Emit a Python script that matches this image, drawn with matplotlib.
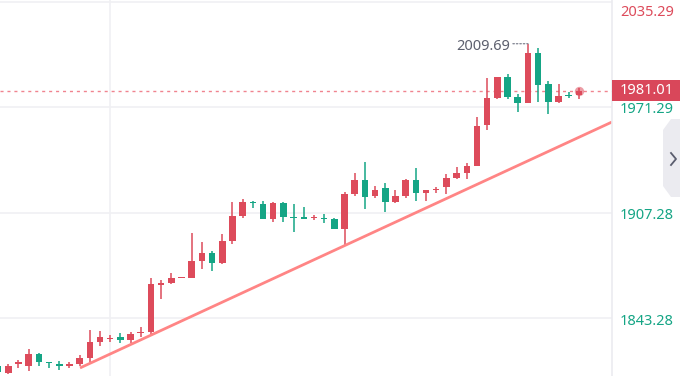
import matplotlib
matplotlib.use("Agg")
import matplotlib.pyplot as plt
import matplotlib.transforms as mtransforms
from matplotlib.patches import Rectangle, Polygon
import numpy as np

# ---------------- data ----------------
opens = [1814.2, 1809.9, 1815.4, 1814.2, 1821.4, 1816.6, 1815.4, 1813.9, 1815.4, 1819.0,
         1828.7, 1830.5, 1831.8, 1829.9, 1834.2, 1834.8, 1863.6, 1864.5, 1867.3, 1867.6,
         1877.9, 1882.7, 1876.7, 1890.0, 1905.2, 1913.7, 1912.5, 1903.4, 1913.1, 1904.6,
         1904.6, 1903.7, 1904.0, 1903.4, 1897.3, 1918.5, 1927.0, 1917.3, 1922.2, 1913.7,
         1917.3, 1927.0, 1919.1, 1921.0, 1922.8, 1928.2, 1931.3, 1935.5, 1960.4, 1976.8,
         1989.5, 1977.4, 1973.7, 2004.1, 1985.3, 1974.3, 1978.3, 1978.3]
highs = [1814.8, 1815.4, 1817.8, 1824.5, 1822.1, 1816.6, 1817.2, 1816.6, 1820.8, 1836.0,
         1835.4, 1833.0, 1834.2, 1834.8, 1837.8, 1867.6, 1866.3, 1870.6, 1867.9, 1894.9,
         1889.4, 1883.9, 1894.2, 1913.7, 1915.5, 1914.3, 1914.3, 1913.7, 1913.7, 1912.5,
         1910.6, 1905.8, 1906.4, 1904.0, 1919.7, 1931.3, 1937.9, 1923.4, 1925.2, 1920.9,
         1927.6, 1934.3, 1920.9, 1922.8, 1930.7, 1934.9, 1937.3, 1965.2, 1988.9, 1989.5,
         1991.3, 1979.2, 2009.69, 2007.1, 1987.1, 1985.3, 1980.4, 1982.8]
lows = [1809.3, 1809.3, 1813.0, 1811.1, 1814.2, 1813.0, 1811.7, 1813.0, 1814.2, 1816.6,
        1826.3, 1828.7, 1828.1, 1828.1, 1831.8, 1833.0, 1854.8, 1863.9, 1867.3, 1867.6,
        1873.0, 1871.8, 1876.0, 1888.2, 1904.0, 1910.0, 1903.4, 1901.5, 1901.5, 1895.5,
        1903.4, 1902.7, 1900.9, 1897.3, 1887.6, 1917.3, 1909.4, 1916.1, 1907.6, 1913.1,
        1916.1, 1914.3, 1914.3, 1919.1, 1918.5, 1927.6, 1927.6, 1935.5, 1957.3, 1976.2,
        1976.2, 1968.3, 1973.7, 1974.3, 1967.1, 1973.7, 1976.8, 1976.2]
closes = [1810.5, 1814.2, 1816.6, 1821.4, 1816.6, 1816.0, 1814.2, 1815.4, 1819.0, 1828.7,
          1831.8, 1831.2, 1829.9, 1833.6, 1834.8, 1863.9, 1864.5, 1867.6, 1867.9, 1877.9,
          1882.7, 1876.7, 1890.0, 1905.2, 1913.7, 1913.1, 1903.4, 1913.1, 1904.6, 1904.0,
          1903.4, 1904.3, 1903.4, 1897.3, 1918.5, 1927.0, 1916.7, 1920.9, 1913.7, 1917.3,
          1927.0, 1919.1, 1920.9, 1921.6, 1928.2, 1931.3, 1935.5, 1959.8, 1976.8, 1989.5,
          1977.4, 1973.7, 2004.1, 1984.6, 1974.3, 1978.0, 1977.7, 1981.01]

y_ticks = [2035.29, 1971.29, 1907.28, 1843.28]
y_tick_labels = ["2035.29", "1971.29", "1907.28", "1843.28"]
last_price = 1981.01
last_label = "1981.01"
high_label = "2009.69"
high_idx = 52
trend_x = [8.04, 60.25]
trend_y = [1813.0, 1962.2]

# ---------------- style ----------------
RED = "#dd4b5b"
GREEN = "#15a585"
GRID = "#f0f0f3"
W, H = 680, 376
plt.rcParams["font.family"] = ["Noto Sans", "DejaVu Sans"]

fig = plt.figure(figsize=(W / 100, H / 100), dpi=100)
plot_w = 612
ax = fig.add_axes([0, 0, plot_w / W, 1])
ax.set_xlim(0.186, 60.25)
ax.set_ylim(1808.1, 2036.2)
ax.axis("off")

# grid
for t in y_ticks:
    ax.axhline(t, color=GRID, lw=1.2, zorder=0)
ax.axvline(11, color=GRID, lw=1.2, zorder=0)

# candles
x = np.arange(len(opens))
o = np.array(opens); c = np.array(closes); h = np.array(highs); l = np.array(lows)
up = c >= o
colors = [RED if u else GREEN for u in up]
ax.vlines(x, l, h, colors=colors, lw=1.1, zorder=2)
bottoms = np.minimum(o, c)
heights = np.maximum(np.abs(c - o), 0.7)
ax.bar(x, heights, bottom=bottoms, width=0.64, color=colors, zorder=3, linewidth=0)

# trend line
ax.plot(trend_x, trend_y, color="#ff8585", lw=2.0, zorder=4, solid_capstyle="butt")

# current price dashed line
ax.axhline(last_price, color="#f0848f", lw=1.0, ls=(0, (2.2, 2.8)), zorder=1)
ax.scatter([x[-1]], [last_price], s=45, color=RED, alpha=0.55, zorder=5, linewidths=0)

# high annotation
ax.annotate(high_label, xy=(high_idx, highs[high_idx]), xytext=(-18, -3),
            textcoords="offset pixels", ha="right", va="center",
            fontsize=10.5, color="#5d606e")
ax.annotate("", xy=(high_idx, highs[high_idx]), xytext=(-15, 0),
            textcoords="offset pixels",
            arrowprops=dict(arrowstyle="-", color="#8a8d99", lw=1.0, ls=(0, (1, 1.5)),
                            shrinkA=0, shrinkB=0))

# right axis separator
fig.add_artist(plt.Line2D([plot_w / W, plot_w / W], [0, 1], color="#ebebf0", lw=1.2))

blend = mtransforms.blended_transform_factory(ax.transAxes, ax.transData)
offsets = [-11, -3, -3, -3]
for t, lab, off in zip(y_ticks, y_tick_labels, offsets):
    col = RED if t > last_price else GREEN
    ax.annotate(lab, xy=(1, t), xycoords=blend, xytext=(8, off),
                textcoords="offset pixels", ha="left", va="center",
                fontsize=10.5, color=col, annotation_clip=False)

# last price label box (figure-level so it sits above the tick labels)
fig.canvas.draw()
ypix = ax.transData.transform((0, last_price))[1]
fig.add_artist(Rectangle((plot_w, ypix - 10.5), W - plot_w, 21, transform=None,
                         facecolor="#d9475a", edgecolor="none", zorder=6))
lbl = fig.text(plot_w + 8, ypix, last_label, transform=None, ha="left", va="center",
               fontsize=10.5, color="white", zorder=7)

# side button
def px(xx, yy):
    return (xx / W, 1 - yy / H)
btn = Polygon([px(680, 119), px(671, 119), px(663, 130), px(663, 186),
               px(671, 197), px(680, 197)], closed=True,
              transform=fig.transFigure, facecolor="#ebebf0", edgecolor="none")
fig.add_artist(btn)
fig.add_artist(plt.Line2D([671 / W, 676 / W, 671 / W],
                          [1 - 153 / H, 1 - 159 / H, 1 - 165 / H],
                          color="#5a5d6e", lw=1.3))

fig.savefig("out.png", dpi=100)
